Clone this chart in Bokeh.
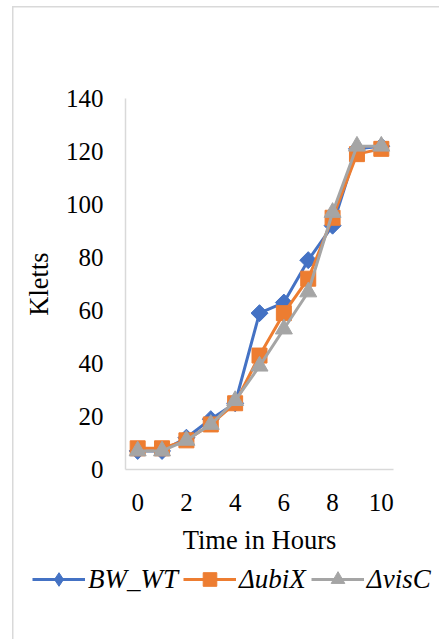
import math
from bokeh.plotting import figure
from bokeh.layouts import column
from bokeh.models import Legend, FixedTicker, Range1d
from bokeh.embed import file_html
from bokeh.resources import INLINE

hours = [0, 1, 2, 3, 4, 5, 6, 7, 8, 9, 10]
bw_wt = [7, 7, 12, 19, 25, 59, 63, 79, 92, 121, 122]
ubix = [8, 8, 11, 17, 25, 43, 59, 72, 95, 119, 121]
visc = [7, 7, 11, 17, 26, 39, 53, 67, 97, 122, 122]
x_ticks = [0, 2, 4, 6, 8, 10]
y_ticks = [0, 20, 40, 60, 80, 100, 120, 140]
names = ["BW_WT", "\u0394ubiX", "\u0394visC"]
colors = ["#4472C4", "#ED7D31", "#A5A5A5"]

FONT = "Liberation Serif"
GRID = "#d9d9d9"

markers = ["square", "square", "triangle"]
angles = [math.pi / 4, 0, 0]
sizes = [12, 15, 17]
legend_markers = ["diamond", "square", "triangle"]
legend_sizes = [19, 14, 15]
series = [bw_wt, ubix, visc]

# main chart
p = figure(width=439, height=560, output_backend="svg", toolbar_location=None,
           x_range=Range1d(-0.5, 10.5), y_range=Range1d(0, 140),
           min_border_left=125, min_border_right=46, min_border_top=98,
           min_border_bottom=91)
p.frame_align = False
p.outline_line_color = None
p.xgrid.grid_line_color = None
p.ygrid.grid_line_color = None
p.border_fill_alpha = 0
p.styles = {
    "background": f"linear-gradient({GRID}, {GRID}) 12px 6px / 1.5px 100% no-repeat, "
                  f"linear-gradient({GRID}, {GRID}) 12px 6px / 100% 1.5px no-repeat, #ffffff"
}

for ax in (p.xaxis[0], p.yaxis[0]):
    ax.axis_line_color = GRID
    ax.axis_line_width = 1.5
    ax.major_tick_line_color = None
    ax.minor_tick_line_color = None
    ax.major_tick_out = 0
    ax.major_tick_in = 0
    ax.major_label_text_font = FONT
    ax.major_label_text_font_size = "25px"
    ax.major_label_text_color = "#000000"
    ax.axis_label_text_font = FONT
    ax.axis_label_text_font_size = "26.5px"
    ax.axis_label_text_font_style = "normal"
    ax.axis_label_text_color = "#000000"

p.xaxis.ticker = FixedTicker(ticks=x_ticks)
p.yaxis.ticker = FixedTicker(ticks=y_ticks)
p.xaxis.axis_label = "Time in Hours"
p.yaxis.axis_label = "Kletts"
p.xaxis.major_label_standoff = 24
p.yaxis.major_label_standoff = 22
p.xaxis.axis_label_standoff = 11
p.yaxis.axis_label_standoff = 9

for col, ys, mk, ang, sz in zip(colors, series, markers, angles, sizes):
    p.line(hours, ys, line_color=col, line_width=3)
    p.scatter(hours, ys, marker=mk, angle=ang, size=sz, fill_color=col, line_color=col)

# legend strip
lg = figure(width=439, height=79, output_backend="svg", toolbar_location=None,
            x_range=Range1d(0, 1), y_range=Range1d(0, 1),
            x_axis_location=None, y_axis_location=None,
            min_border=0)
lg.frame_align = False
lg.outline_line_color = None
lg.xgrid.grid_line_color = None
lg.ygrid.grid_line_color = None
lg.border_fill_alpha = 0
lg.background_fill_alpha = 0
lg.styles = {
    "background": f"linear-gradient({GRID}, {GRID}) 12px 0px / 1.5px 100% no-repeat, #ffffff"
}

items = []
for name, col, mk, sz in zip(names, colors, legend_markers, legend_sizes):
    r1 = lg.line([-10, -9], [-10, -9], line_color=col, line_width=3)
    r2 = lg.scatter([-10], [-10], marker=mk, size=sz, fill_color=col, line_color=col)
    items.append((name, [r1, r2]))

legend = Legend(items=items, orientation="horizontal", location=(32, 43),
                label_text_font=FONT, label_text_font_size="27px",
                label_text_font_style="italic", label_text_color="#000000",
                glyph_width=53, glyph_height=34, label_standoff=3, spacing=5,
                padding=0, margin=0, border_line_color=None,
                background_fill_alpha=0)
lg.add_layout(legend, "center")

layout = column(p, lg, spacing=0)
open("out.html", "w").write(file_html(layout, INLINE))
